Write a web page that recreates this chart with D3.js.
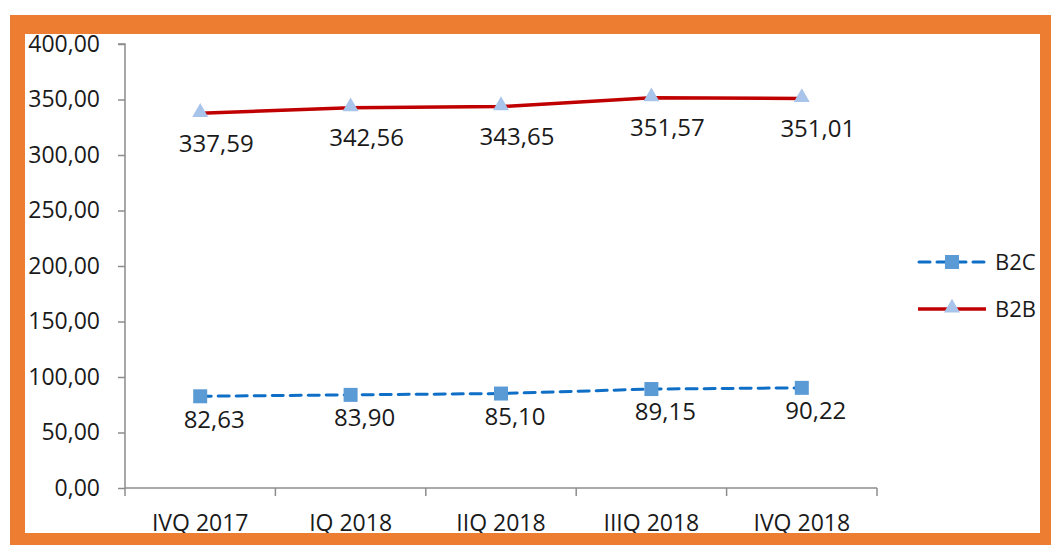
<!DOCTYPE html>
<html>
<head>
<meta charset="utf-8">
<script src="https://cdn.jsdelivr.net/npm/d3@7"></script>
<style>
  html, body { margin: 0; padding: 0; background: #fff; }
  svg { display: block; }
  text { font-family: "Open Sans", "Noto Sans", sans-serif; fill: #1a1a1a; }
</style>
</head>
<body>
<div id="chart"></div>
<script>
// chart data
const quarters = ['IVQ 2017', 'IQ 2018', 'IIQ 2018', 'IIIQ 2018', 'IVQ 2018'];
const b2c = [82.63, 83.90, 85.10, 89.15, 90.22];
const b2b = [337.59, 342.56, 343.65, 351.57, 351.01];
const yTicks = [0, 50, 100, 150, 200, 250, 300, 350, 400];

const W = 1051, H = 545;
const plot = {left: 125, right: 877, top: 44, bottom: 488};

const locale = d3.formatLocale({decimal: ',', thousands: '.', grouping: [3], currency: ['', '']});
const fmt = locale.format('.2f');

const svg = d3.select('#chart').append('svg')
  .attr('width', W)
  .attr('height', H);

const x = d3.scaleBand().domain(quarters).range([plot.left, plot.right]);
const y = d3.scaleLinear().domain([0, 400]).range([plot.bottom, plot.top]);
const cx = d => x(d) + x.bandwidth() / 2;

// y axis
const yAxis = d3.axisLeft(y).tickValues(yTicks).tickFormat(fmt).tickSize(7).tickPadding(18);
const gy = svg.append('g').attr('transform', 'translate(' + plot.left + ',0)').call(yAxis);
gy.selectAll('path, line').attr('stroke', '#8c8c8c').attr('stroke-width', 1.5);
gy.select('.domain').attr('d', 'M-7,' + plot.top + 'H0V' + plot.bottom);
gy.selectAll('text').style('font-size', '23px').attr('fill', '#1a1a1a');

// x axis, ticks at category boundaries
const gx = svg.append('g').attr('transform', 'translate(0,' + plot.bottom + ')');
gx.append('line').attr('x1', plot.left).attr('x2', plot.right)
  .attr('stroke', '#8c8c8c').attr('stroke-width', 1.5);
const bounds = quarters.map(q => x(q)).concat([plot.right]);
gx.selectAll('.tk').data(bounds).enter().append('line')
  .attr('x1', d => d).attr('x2', d => d).attr('y1', 0).attr('y2', 8)
  .attr('stroke', '#8c8c8c').attr('stroke-width', 1.5);
gx.selectAll('.lbl').data(quarters).enter().append('text')
  .attr('x', d => cx(d)).attr('y', 43)
  .attr('text-anchor', 'middle')
  .style('font-size', '23px')
  .text(d => d);

const line = d3.line().x((d, i) => cx(quarters[i])).y(d => y(d));

// B2C dashed
svg.append('path').datum(b2c).attr('d', line)
  .attr('fill', 'none').attr('stroke', '#0F6FC6').attr('stroke-width', 3)
  .attr('stroke-dasharray', '11,7').attr('stroke-linecap', 'round');
svg.selectAll('.sq').data(b2c).enter().append('rect')
  .attr('x', (d, i) => cx(quarters[i]) - 7).attr('y', d => y(d) - 7)
  .attr('width', 14).attr('height', 14).attr('fill', '#5B9BD5');

// B2B solid
svg.append('path').datum(b2b).attr('d', line)
  .attr('fill', 'none').attr('stroke', '#C00000').attr('stroke-width', 3.5);
const tri = d3.symbol().type(d3.symbolTriangle).size(110);
svg.selectAll('.tri').data(b2b).enter().append('path')
  .attr('d', tri)
  .attr('transform', (d, i) => 'translate(' + cx(quarters[i]) + ',' + (y(d) - 1) + ')')
  .attr('fill', '#A9C4EB');

// value labels
svg.selectAll('.lb2b').data(b2b).enter().append('text')
  .attr('x', (d, i) => cx(quarters[i]) + 16).attr('y', d => y(d) + 30)
  .attr('dy', '0.35em').attr('text-anchor', 'middle')
  .style('font-size', '24px')
  .text(d => fmt(d));
svg.selectAll('.lb2c').data(b2c).enter().append('text')
  .attr('x', (d, i) => cx(quarters[i]) + 14).attr('y', d => y(d) + 23)
  .attr('dy', '0.35em').attr('text-anchor', 'middle')
  .style('font-size', '24px')
  .text(d => fmt(d));

// legend
const legend = svg.append('g');
const lg1 = legend.append('g').attr('transform', 'translate(918,262)');
lg1.append('line').attr('x1', 0).attr('x2', 68)
  .attr('stroke', '#0F6FC6').attr('stroke-width', 3)
  .attr('stroke-dasharray', '11,7').attr('stroke-dashoffset', -1).attr('stroke-linecap', 'round');
lg1.append('rect').attr('x', 27).attr('y', -7).attr('width', 14).attr('height', 14).attr('fill', '#5B9BD5');
lg1.append('text').attr('x', 77).attr('dy', '0.35em').style('font-size', '22px').text('B2C');

const lg2 = legend.append('g').attr('transform', 'translate(918,309)');
lg2.append('line').attr('x1', 0).attr('x2', 68)
  .attr('stroke', '#C00000').attr('stroke-width', 3.5);
lg2.append('path').attr('d', tri).attr('transform', 'translate(34,-1)').attr('fill', '#A9C4EB');
lg2.append('text').attr('x', 77).attr('dy', '0.35em').style('font-size', '22px').text('B2B');

// orange frame drawn last so it trims the bottom labels
svg.append('path')
  .attr('d', 'M10,15H' + W + 'V' + H + 'H10Z M25,34V533H1040V34Z')
  .attr('fill', '#ED7D31').attr('fill-rule', 'evenodd');
</script>
</body>
</html>
